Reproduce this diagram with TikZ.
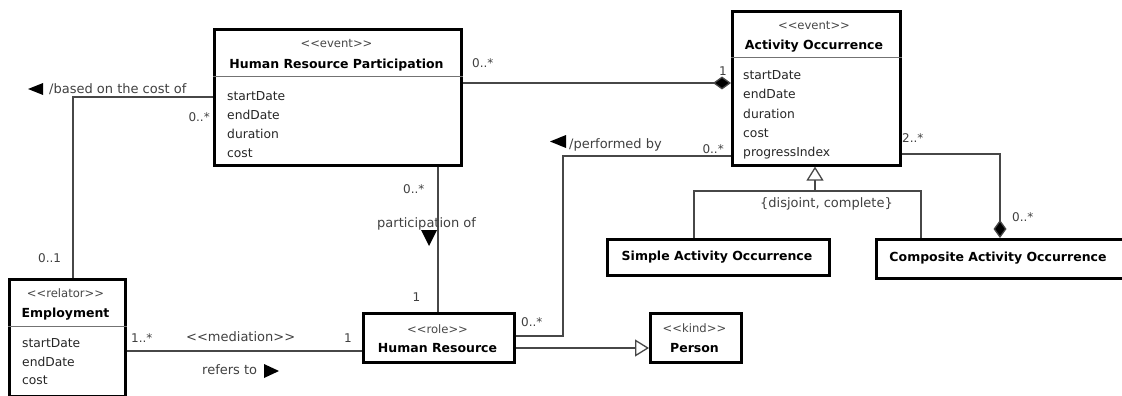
\documentclass[tikz,border=0pt]{standalone}
\usepackage{fontspec}
\setmainfont{DejaVu Sans}
\usetikzlibrary{arrows.meta}
% guillemet-free stereotype brackets
\newcommand\stereo[1]{<\kern0pt<#1>\kern0pt>}
\tikzset{
  cls/.style={draw=black, line width=2.6pt, fill=white, inner sep=0pt, outer sep=1.3pt, anchor=north west},
  sepline/.style={draw=black!55, line width=1pt},
  conn/.style={draw=black!72, line width=1.3pt},
  stname/.style={font=\fontsize{11.6}{13}\selectfont, text=black!72, inner sep=0pt, anchor=base},
  clname/.style={font=\fontsize{12.5}{15}\selectfont\bfseries, text=black, inner sep=0pt, anchor=base},
  attr/.style={font=\fontsize{12.3}{15}\selectfont, text=black!85, inner sep=0pt, anchor=base west},
  lbl/.style={font=\fontsize{13}{15}\selectfont, text=black!75, inner sep=0pt},
  mult/.style={font=\fontsize{12}{14}\selectfont, text=black!75, inner sep=0pt},
  readdir/.style={fill=black, draw=none},
  comp/.style={-{Diamond[length=18pt,width=13pt,fill=black]}},
  gen/.style={-{Triangle[open,length=14pt,width=17pt,fill=white]}},
}
\begin{document}
\begin{tikzpicture}[x=1pt,y=-1pt]
\useasboundingbox (0,0) rectangle (1122,396);

% ---- classes ----
\node[cls, minimum width=247, minimum height=136] (hrp) at (213,28) {};
\draw[sepline] (hrp.west |- 0,77) -- (hrp.east |- 0,77);
\node[stname] (hrp-st) at (336.5,48) {\stereo{event}};
\node[clname] (hrp-nm) at (336.5,68.5) {Human Resource Participation};
\node[attr] (hrp-a1) at (227,100) {startDate};
\node[attr] (hrp-a2) at (227,119) {endDate};
\node[attr] (hrp-a3) at (227,138) {duration};
\node[attr] (hrp-a4) at (227,157) {cost};

\node[cls, minimum width=168, minimum height=154] (ao) at (731,10) {};
\draw[sepline] (ao.west |- 0,58) -- (ao.east |- 0,58);
\node[stname] (ao-st) at (814,29.5) {\stereo{event}};
\node[clname] (ao-nm) at (814,49.5) {Activity Occurrence};
\node[attr] (ao-a1) at (743,80) {startDate};
\node[attr] (ao-a2) at (743,99) {endDate};
\node[attr] (ao-a3) at (743,118) {duration};
\node[attr] (ao-a4) at (743,137) {cost};
\node[attr] (ao-a5) at (743,156) {progressIndex};

\node[cls, minimum width=116, minimum height=117] (emp) at (8,278) {};
\draw[sepline] (emp.west |- 0,326) -- (emp.east |- 0,326);
\node[stname] (emp-st) at (65.5,297.5) {\stereo{relator}};
\node[clname] (emp-nm) at (65.5,317.5) {Employment};
\node[attr] (emp-a1) at (22,347.5) {startDate};
\node[attr] (emp-a2) at (22,366) {endDate};
\node[attr] (emp-a3) at (22,384.5) {cost};

\node[cls, minimum width=151, minimum height=49] (hr) at (362,312) {};
\node[stname] (hr-st) at (437.5,333) {\stereo{role}};
\node[clname] (hr-nm) at (437.5,352.5) {Human Resource};

\node[cls, minimum width=91, minimum height=49] (person) at (649,312) {};
\node[stname] (person-st) at (694.5,332.5) {\stereo{kind}};
\node[clname] (person-nm) at (694.5,352.5) {Person};

\node[cls, minimum width=222, minimum height=36] (simple) at (606,238) {};
\node[clname] (simple-nm) at (717,260.5) {Simple Activity Occurrence};

\node[cls, minimum width=262, minimum height=39] (composite) at (875,238) {};
\node[clname] (composite-nm) at (998,261.5) {Composite Activity Occurrence};

% ---- associations ----
\draw[conn, comp] (hrp.east |- 0,83) -- (ao.west |- 0,83);
\draw[conn] (emp.north -| 73,0) |- (hrp.west |- 0,97);
\draw[conn] (hrp.south -| 438,0) -- (hr.north -| 438,0);
\draw[conn] (emp.east |- 0,351) -- (hr.west |- 0,351);
\draw[conn, gen] (hr.east |- 0,348) -- (person.west |- 0,348);
\coordinate (pb) at (563,156);
\draw[conn] (hr.east |- 0,336) -| (pb) -- (ao.west |- pb);
\draw[conn, comp] (ao.east |- 0,154) -| (composite.north -| 1000,0);

% generalization set
\coordinate (gj) at (815,191);
\draw[conn] (simple.north -| 694,0) |- (gj) -| (composite.north -| 921,0);
\draw[conn, gen] (gj) -- (ao.south -| gj);
\node[lbl, anchor=base east] (gset) at (893,207.5) {\{disjoint, complete\}};

% ---- association labels and multiplicities ----
\fill[readdir] (28,89) -- (43,83) -- (43,95) -- cycle;
\node[lbl, anchor=base west] (based) at (49,93.5) {/based on the cost of};
\node[mult, anchor=base east] (m-hrp-emp) at (210,121.5) {0..*};
\node[mult, anchor=base west] (m-emp-hrp) at (38,262.5) {0..1};

\node[mult, anchor=base west] (m-hrp-ao) at (472,67.5) {0..*};
\node[mult, anchor=base] (m-ao-hrp) at (723,75.5) {1};

\fill[readdir] (550,141.5) -- (566,135) -- (566,148) -- cycle;
\node[lbl, anchor=base west] (perf) at (569,148.5) {/performed by};
\node[mult, anchor=base east] (m-ao-hr) at (724,153.5) {0..*};
\node[mult, anchor=base west] (m-hr-ao) at (521,326.5) {0..*};

\node[mult, anchor=base west] (m-ao-comp) at (902,142.5) {2..*};
\node[mult, anchor=base west] (m-comp-ao) at (1012,221.5) {0..*};

\node[mult, anchor=base west] (m-hrp-hr) at (403,193.5) {0..*};
\node[lbl, anchor=base west] (partof) at (377,227.5) {participation of};
\fill[readdir] (421,230) -- (437,230) -- (429,246) -- cycle;
\node[mult, anchor=base] (m-hr-hrp) at (416.5,301.5) {1};

\node[mult, anchor=base west] (m-emp-hr) at (131,342.5) {1..*};
\node[lbl, anchor=base west] (med) at (186,341.5) {\stereo{mediation}};
\node[mult, anchor=base] (m-hr-emp) at (348,342.5) {1};
\node[lbl, anchor=base west] (refers) at (202,374.5) {refers to};
\fill[readdir] (264,364) -- (279,371) -- (264,378) -- cycle;
\end{tikzpicture}
\end{document}
